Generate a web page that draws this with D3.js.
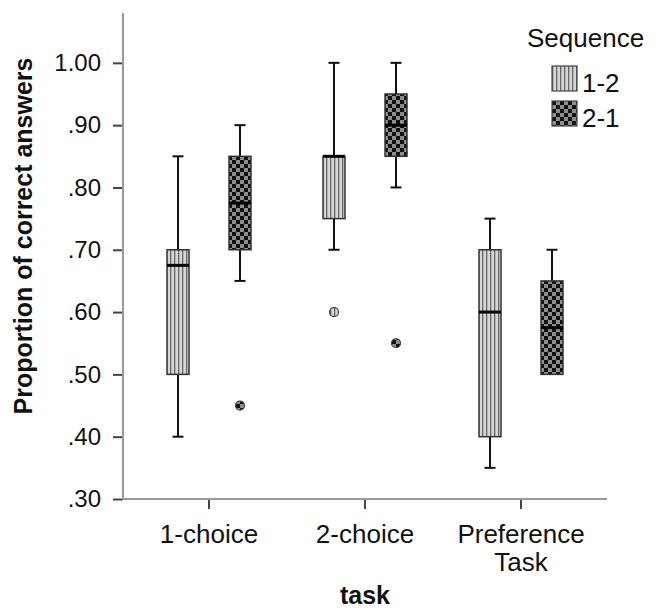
<!DOCTYPE html>
<html>
<head>
<meta charset="utf-8">
<script src="https://cdn.jsdelivr.net/npm/d3@7"></script>
<style>
  body { margin: 0; background: #fff; }
  svg { display: block; font-family: "Liberation Sans", Arial, sans-serif; }
</style>
</head>
<body>
<div id="chart"></div>
<script>
const tasks = ["1-choice", "2-choice", "Preference Task"];
const sequences = ["1-2", "2-1"];
// [whisker low, Q1, median, Q3, whisker high] per task
const seq12Stats = [[0.40, 0.50, 0.675, 0.70, 0.85], [0.70, 0.75, 0.85, 0.85, 1.00], [0.35, 0.40, 0.60, 0.70, 0.75]];
const seq21Stats = [[0.65, 0.70, 0.775, 0.85, 0.90], [0.80, 0.85, 0.90, 0.95, 1.00], [0.50, 0.50, 0.575, 0.65, 0.70]];
const seq12Outliers = [[], [0.60], []];
const seq21Outliers = [[0.45], [0.55], []];
const yTicks = [0.30, 0.40, 0.50, 0.60, 0.70, 0.80, 0.90, 1.00];

const W = 660, H = 613;
const svg = d3.select("#chart").append("svg")
  .attr("width", W).attr("height", H);

const defs = svg.append("defs");
const stripes = defs.append("pattern")
  .attr("id", "stripes").attr("patternUnits", "userSpaceOnUse")
  .attr("width", 4).attr("height", 4);
stripes.append("rect").attr("width", 4).attr("height", 4).attr("fill", "#d6d6d6");
stripes.append("rect").attr("x", 0).attr("width", 1.3).attr("height", 4).attr("fill", "#666");

const checker = defs.append("pattern")
  .attr("id", "checker").attr("patternUnits", "userSpaceOnUse")
  .attr("width", 8).attr("height", 8);
checker.append("rect").attr("width", 8).attr("height", 8).attr("fill", "#8e8e8e");
checker.append("rect").attr("width", 4).attr("height", 4).attr("fill", "#111");
checker.append("rect").attr("x", 4).attr("y", 4).attr("width", 4).attr("height", 4).attr("fill", "#111");

const fills = { "1-2": "url(#stripes)", "2-1": "url(#checker)" };

const x = d3.scaleBand().domain(tasks).range([131, 599]).padding(0);
const xSub = d3.scaleBand().domain(sequences).range([-62, 62]).padding(0);
const y = d3.scaleLinear().domain([0.3, 1.08]).range([499, 13]);

const boxW = 22, capW = 11;

// axes
const fmt = v => d3.format(".2f")(v).replace(/^0/, "");
const yAxis = svg.append("g")
  .attr("transform", "translate(123,0)")
  .call(d3.axisLeft(y).tickValues(yTicks).tickFormat(fmt).tickSize(10).tickPadding(12));
yAxis.select(".domain").remove();
yAxis.selectAll(".tick line").attr("stroke", "#444").attr("stroke-width", 2);
yAxis.selectAll(".tick text").attr("font-size", 24).attr("fill", "#111")
  .attr("font-family", "Liberation Sans, Arial, sans-serif");

svg.append("line")
  .attr("x1", 123).attr("x2", 123).attr("y1", y(1.08)).attr("y2", y(0.3))
  .attr("stroke", "#999").attr("stroke-width", 2);

const xAxis = svg.append("g")
  .attr("transform", `translate(0,${y(0.3)})`)
  .call(d3.axisBottom(x).tickSize(10).tickFormat(""));
xAxis.select(".domain").remove();
xAxis.selectAll(".tick line").attr("stroke", "#444").attr("stroke-width", 2);

svg.append("line")
  .attr("x1", 122).attr("x2", 607).attr("y1", y(0.3)).attr("y2", y(0.3))
  .attr("stroke", "#999").attr("stroke-width", 2);

const xLabels = svg.append("g").selectAll("text")
  .data(tasks).join("text")
  .attr("x", d => x(d) + x.bandwidth() / 2)
  .attr("y", 543)
  .attr("text-anchor", "middle")
  .attr("font-size", 26).attr("fill", "#111");
xLabels.each(function(d) {
  const parts = d.split(" ");
  d3.select(this).selectAll("tspan").data(parts).join("tspan")
    .attr("x", x(d) + x.bandwidth() / 2)
    .attr("dy", (p, i) => i === 0 ? 0 : 28)
    .text(p => p);
});

// axis titles
svg.append("text")
  .attr("x", 365).attr("y", 604)
  .attr("text-anchor", "middle")
  .attr("font-size", 25).attr("font-weight", "bold").attr("fill", "#111")
  .text("task");

svg.append("text")
  .attr("transform", "translate(32,236) rotate(-90)")
  .attr("text-anchor", "middle")
  .attr("font-size", 25).attr("font-weight", "bold").attr("fill", "#111")
  .text("Proportion of correct answers");

// boxes
const boxData = [];
tasks.forEach((t, i) => {
  boxData.push({ task: t, seq: "1-2", s: seq12Stats[i], out: seq12Outliers[i] });
  boxData.push({ task: t, seq: "2-1", s: seq21Stats[i], out: seq21Outliers[i] });
});

const boxes = svg.append("g").selectAll("g")
  .data(boxData).join("g")
  .attr("transform", d => `translate(${x(d.task) + x.bandwidth() / 2 + xSub(d.seq) + xSub.bandwidth() / 2},0)`);

// whiskers
boxes.append("line")
  .attr("x1", 0).attr("x2", 0)
  .attr("y1", d => y(d.s[3])).attr("y2", d => y(d.s[4]))
  .attr("stroke", "#111").attr("stroke-width", 2);
boxes.append("line")
  .attr("x1", 0).attr("x2", 0)
  .attr("y1", d => y(d.s[0])).attr("y2", d => y(d.s[1]))
  .attr("stroke", "#111").attr("stroke-width", 2);
boxes.filter(d => d.s[4] > d.s[3]).append("line")
  .attr("x1", -capW / 2).attr("x2", capW / 2)
  .attr("y1", d => y(d.s[4])).attr("y2", d => y(d.s[4]))
  .attr("stroke", "#111").attr("stroke-width", 2);
boxes.filter(d => d.s[0] < d.s[1]).append("line")
  .attr("x1", -capW / 2).attr("x2", capW / 2)
  .attr("y1", d => y(d.s[0])).attr("y2", d => y(d.s[0]))
  .attr("stroke", "#111").attr("stroke-width", 2);

boxes.append("rect")
  .attr("x", -boxW / 2).attr("width", boxW)
  .attr("y", d => y(d.s[3]))
  .attr("height", d => y(d.s[1]) - y(d.s[3]))
  .attr("fill", d => fills[d.seq])
  .attr("stroke", "#333").attr("stroke-width", 1.5);

boxes.append("line")
  .attr("x1", -boxW / 2).attr("x2", boxW / 2)
  .attr("y1", d => y(d.s[2])).attr("y2", d => y(d.s[2]))
  .attr("stroke", "#000").attr("stroke-width", 3);

// outliers
boxes.selectAll("circle")
  .data(d => d.out.map(v => ({ v, seq: d.seq })))
  .join("circle")
  .attr("cx", 0).attr("cy", d => y(d.v)).attr("r", 4.5)
  .attr("fill", d => fills[d.seq])
  .attr("stroke", "#444").attr("stroke-width", 1.2);

// legend
svg.append("text")
  .attr("x", 527).attr("y", 47)
  .attr("font-size", 26).attr("fill", "#111")
  .text("Sequence");

const legend = svg.append("g").selectAll("g")
  .data(sequences).join("g")
  .attr("transform", (d, i) => `translate(552,${66 + i * 35})`);
legend.append("rect")
  .attr("width", 25).attr("height", 25)
  .attr("fill", d => fills[d])
  .attr("stroke", "#444").attr("stroke-width", 1.2);
legend.append("text")
  .attr("x", 30).attr("y", 26)
  .attr("font-size", 26).attr("fill", "#111")
  .text(d => d);
</script>
</body>
</html>
